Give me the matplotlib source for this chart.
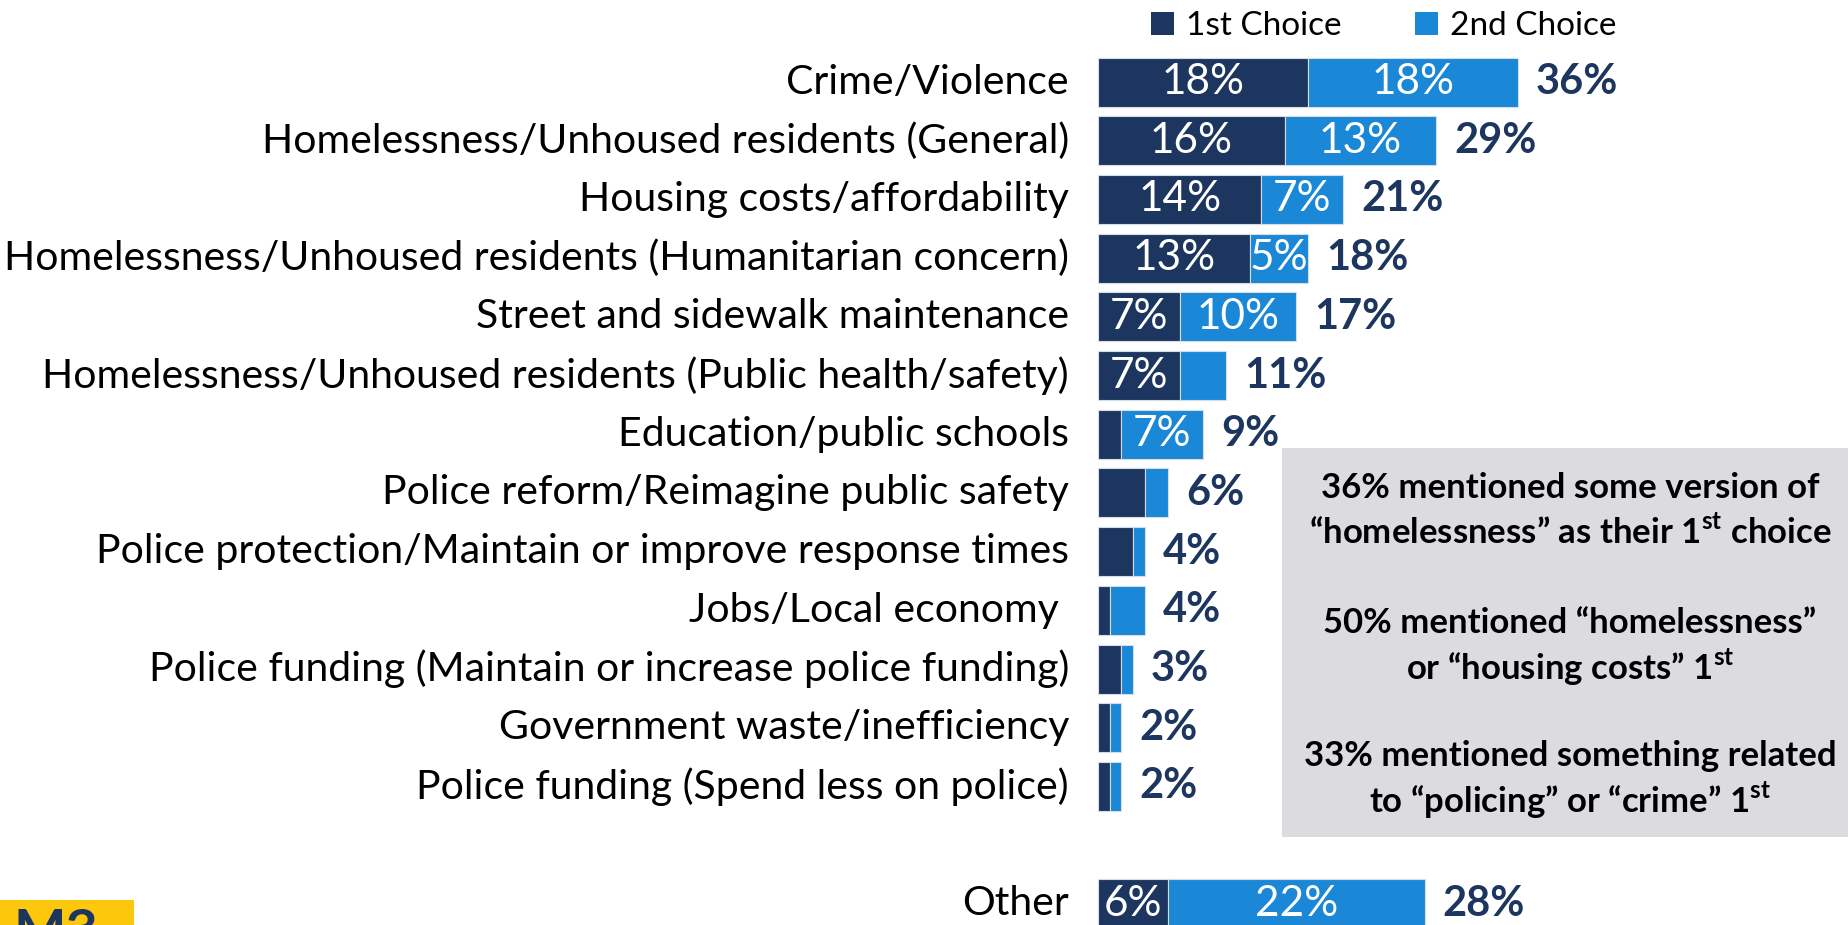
import matplotlib
matplotlib.use("Agg")
import matplotlib.pyplot as plt
from matplotlib.patches import Rectangle, Patch

plt.rcParams['font.family'] = ['Lato', 'DejaVu Sans']
plt.rcParams['mathtext.fontset'] = 'custom'
plt.rcParams['mathtext.rm'] = 'Lato'
plt.rcParams['mathtext.bf'] = 'Lato:bold'

# data
categories = [
    'Crime/Violence',
    'Homelessness/Unhoused residents (General)',
    'Housing costs/affordability',
    'Homelessness/Unhoused residents (Humanitarian concern)',
    'Street and sidewalk maintenance',
    'Homelessness/Unhoused residents (Public health/safety)',
    'Education/public schools',
    'Police reform/Reimagine public safety',
    'Police protection/Maintain or improve response times',
    'Jobs/Local economy ',
    'Police funding (Maintain or increase police funding)',
    'Government waste/inefficiency',
    'Police funding (Spend less on police)',
    'Other',
]
row_pos = [0, 1, 2, 3, 4, 5, 6, 7, 8, 9, 10, 11, 12, 14]
first_choice = [18, 16, 14, 13, 7, 7, 2, 4, 3, 1, 2, 1, 1, 6]
second_choice = [18, 13, 7, 5, 10, 4, 7, 2, 1, 3, 1, 1, 1, 22]
first_labels = ['18%', '16%', '14%', '13%', '7%', '7%', '', '', '', '', '', '', '', '6%']
second_labels = ['18%', '13%', '7%', '5%', '10%', '', '7%', '', '', '', '', '', '', '22%']
total_labels = ['36%', '29%', '21%', '18%', '17%', '11%', '9%', '6%', '4%', '4%', '3%', '2%', '2%', '28%']

NAVY = '#1D3660'
BLUE = '#1A87D7'
GRAY_BOX = '#DCDBE0'

W, H = 1848, 925
fig = plt.figure(figsize=(W / 100, H / 100), dpi=100)

# pixel geometry of the plot area
px_per_pct = 11.67
row_pitch = 58.7
first_row_y = 82
x0_px = 1098

ax = fig.add_axes([x0_px / W, 0, (W - x0_px) / W, 1])
ax.set_xlim(0, (W - x0_px) / px_per_pct)
ax.set_ylim((H - first_row_y) / row_pitch, -first_row_y / row_pitch)
ax.axis('off')

# summary box
fig.patches.append(Rectangle((1282 / W, 1 - 837 / H), (W - 1282) / W, (837 - 448) / H,
                             transform=fig.transFigure, facecolor=GRAY_BOX,
                             edgecolor='none', zorder=0))

bar_h = 49 / row_pitch
ax.barh(row_pos, first_choice, height=bar_h, color=NAVY, edgecolor='#d6dce8', linewidth=0.8)
ax.barh(row_pos, second_choice, left=first_choice, height=bar_h, color=BLUE,
        edgecolor='#d6dce8', linewidth=0.8)

gap = 18 / px_per_pct
for y, cat, a, b, la, lb, lt in zip(row_pos, categories, first_choice, second_choice,
                                    first_labels, second_labels, total_labels):
    ax.text(-29 / px_per_pct, y, cat, ha='right', va='center', fontsize=29.5, color='black')
    if la:
        ax.text(a / 2, y, la, ha='center', va='center', fontsize=30.5, color='white')
    if lb:
        ax.text(a + b / 2, y, lb, ha='center', va='center', fontsize=30.5, color='white')
    ax.text(a + b + gap, y, lt, ha='left', va='center', fontsize=30, color=NAVY,
            fontweight='bold')

# legend
handles = [Patch(facecolor=NAVY, label='1st Choice'), Patch(facecolor=BLUE, label='2nd Choice')]
fig.legend(handles=handles, loc='upper left', bbox_to_anchor=(1121 / W, 1.02), ncol=2,
           frameon=False, fontsize=24, handlelength=0.7, handleheight=0.7,
           handletextpad=0.35, columnspacing=2.2)

# summary text
box_lines = [
    (488, '36% mentioned some version of'),
    (532, '“homelessness” as their 1$^{\\mathbf{st}}$ choice'),
    (623, '50% mentioned “homelessness”'),
    (667, 'or “housing costs” 1$^{\\mathbf{st}}$'),
    (756, '33% mentioned something related'),
    (800, 'to “policing” or “crime” 1$^{\\mathbf{st}}$'),
]
for ypx, line in box_lines:
    fig.text(1570 / W, 1 - ypx / H, line, ha='center', va='center', fontsize=25,
             fontweight='bold', color='black')

# logo fragment in the corner
fig.patches.append(Rectangle((0, 0), 134 / W, 25 / H, transform=fig.transFigure,
                             facecolor='#FDC80C', edgecolor='none'))
fig.text(14 / W, 1 - 908 / H, 'M3', ha='left', va='top', fontsize=40,
         fontweight='bold', color=NAVY)

fig.savefig('out.png', dpi=100)
